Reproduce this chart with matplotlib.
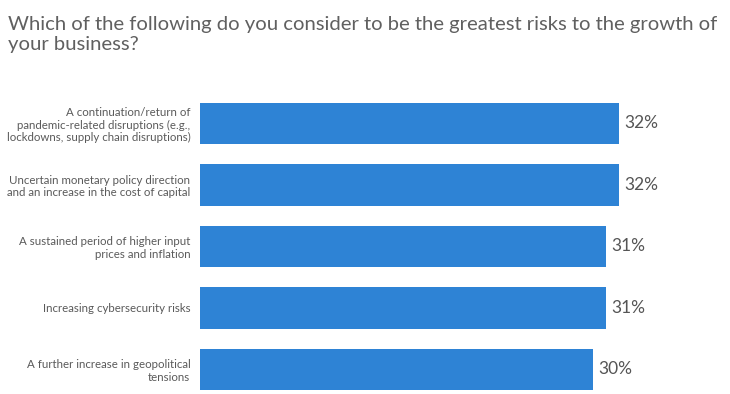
import matplotlib.pyplot as plt

# datos
riesgos = [
    "A continuation/return of\npandemic-related disruptions (e.g.,\nlockdowns, supply chain disruptions)",
    "Uncertain monetary policy direction\nand an increase in the cost of capital",
    "A sustained period of higher input\nprices and inflation",
    "Increasing cybersecurity risks",
    "A further increase in geopolitical\ntensions",
]
porcentajes = [32, 32, 31, 31, 30]
etiquetas = ["32%", "32%", "31%", "31%", "30%"]

titulo = "Which of the following do you consider to be the greatest risks to the growth of\nyour business?"

plt.rcParams["font.family"] = ["Lato", "DejaVu Sans"]

fig = plt.figure(figsize=(7.3, 3.94), dpi=100)
ax = fig.add_axes([200 / 730, 0, 530 / 730, 1 - 92 / 394])

pos = list(range(len(riesgos)))
ax.barh(pos, porcentajes, height=0.67, color="#2e83d5")

for y, v, t in zip(pos, porcentajes, etiquetas):
    ax.text(v + 0.38, y, t, va="center", ha="left", fontsize=12.5,
            color="#555555")

ax.set_xlim(0, 530 / 13.1)
ax.set_ylim(-0.512 + 302 / 61.5, -0.512)
ax.set_yticks(pos)
ax.set_yticklabels(riesgos, fontsize=8.3, color="#5a5a5a", linespacing=1.15)
ax.tick_params(axis="y", length=0, pad=7)
ax.set_xticks([])
for s in ax.spines.values():
    s.set_visible(False)

fig.text(8 / 730, 1 - 16 / 394, titulo, ha="left", va="top", fontsize=14.6,
         color="#606060", linespacing=1.2)

fig.savefig("out.png", dpi=100)
